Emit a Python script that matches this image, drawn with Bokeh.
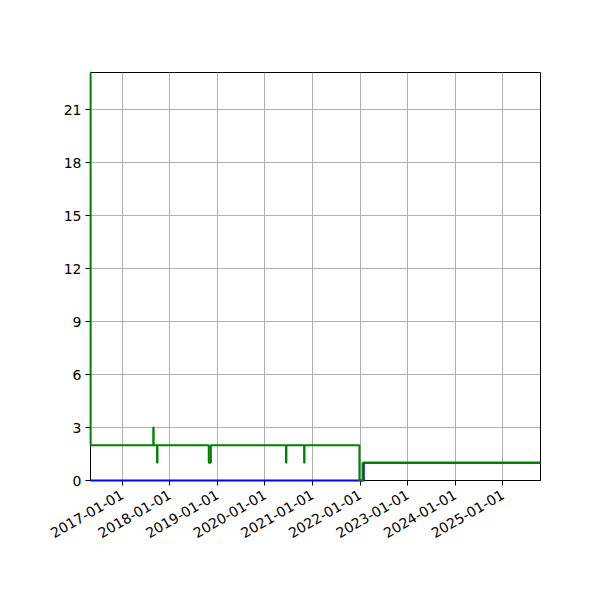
import math
import pandas as pd
from bokeh.plotting import figure
from bokeh.models import Range1d, FixedTicker, DatetimeTickFormatter
from bokeh.embed import file_html
from bokeh.resources import INLINE

# --- data (step series, value holds until the next date) ---
green_dates = ["2016-05-02", "2016-05-03", "2017-08-27", "2017-08-30",
               "2017-09-25", "2017-09-28", "2018-10-27", "2018-11-12",
               "2020-06-11", "2020-06-14", "2020-10-28", "2020-10-31",
               "2021-12-27", "2022-01-20", "2025-10-17"]
green_values = [23.1, 2, 3, 2, 1, 2, 1, 2, 1, 2, 1, 2, 0, 1, 1]

blue_dates = ["2016-05-02", "2022-01-29", "2025-10-17"]
blue_values = [0, 1, 1]

x_start, x_end = "2016-05-02", "2025-10-17"
y_start, y_end = 0, 23.1
year_ticks = ["2017-01-01", "2018-01-01", "2019-01-01", "2020-01-01",
              "2021-01-01", "2022-01-01", "2023-01-01", "2024-01-01",
              "2025-01-01"]
y_ticks = [0, 3, 6, 9, 12, 15, 18, 21]

def ms(s):
    return pd.Timestamp(s).value / 1e6

p = figure(width=584, height=584, output_backend="svg", toolbar_location=None,
           x_axis_type="datetime",
           x_range=Range1d(ms(x_start), ms(x_end)),
           y_range=Range1d(y_start, y_end),
           min_border_left=90, min_border_right=44,
           min_border_top=72, min_border_bottom=104)

p.background_fill_color = "white"
p.border_fill_color = "white"
p.outline_line_color = "black"
p.outline_line_width = 1
p.outline_line_alpha = 1

p.xaxis.ticker = FixedTicker(ticks=[ms(t) for t in year_ticks])
fmt = "%Y-%m-%d"
p.xaxis.formatter = DatetimeTickFormatter(
    milliseconds=fmt, seconds=fmt, minsec=fmt, minutes=fmt, hourmin=fmt,
    hours=fmt, days=fmt, months=fmt, years=fmt)
p.yaxis.ticker = FixedTicker(ticks=y_ticks)
p.xaxis.major_label_orientation = math.pi / 6

for ax in (p.xaxis[0], p.yaxis[0]):
    ax.axis_line_color = "black"
    ax.axis_line_width = 1
    ax.major_tick_line_color = "black"
    ax.major_tick_in = 0
    ax.major_tick_out = 5
    ax.minor_tick_line_color = None
    ax.major_label_text_font = "DejaVu Sans"
    ax.major_label_text_font_size = "14px"
    ax.major_label_text_color = "black"
    ax.major_label_standoff = 4
p.xaxis.major_label_standoff = 8

p.grid.grid_line_color = "#b0b0b0"
p.grid.grid_line_width = 1

p.step([ms(d) for d in blue_dates], blue_values, mode="after",
       line_color="blue", line_width=2, level="overlay")
p.step([ms(d) for d in green_dates], green_values, mode="after",
       line_color="green", line_width=2, level="overlay")

open("out.html", "w").write(file_html(p, INLINE))
